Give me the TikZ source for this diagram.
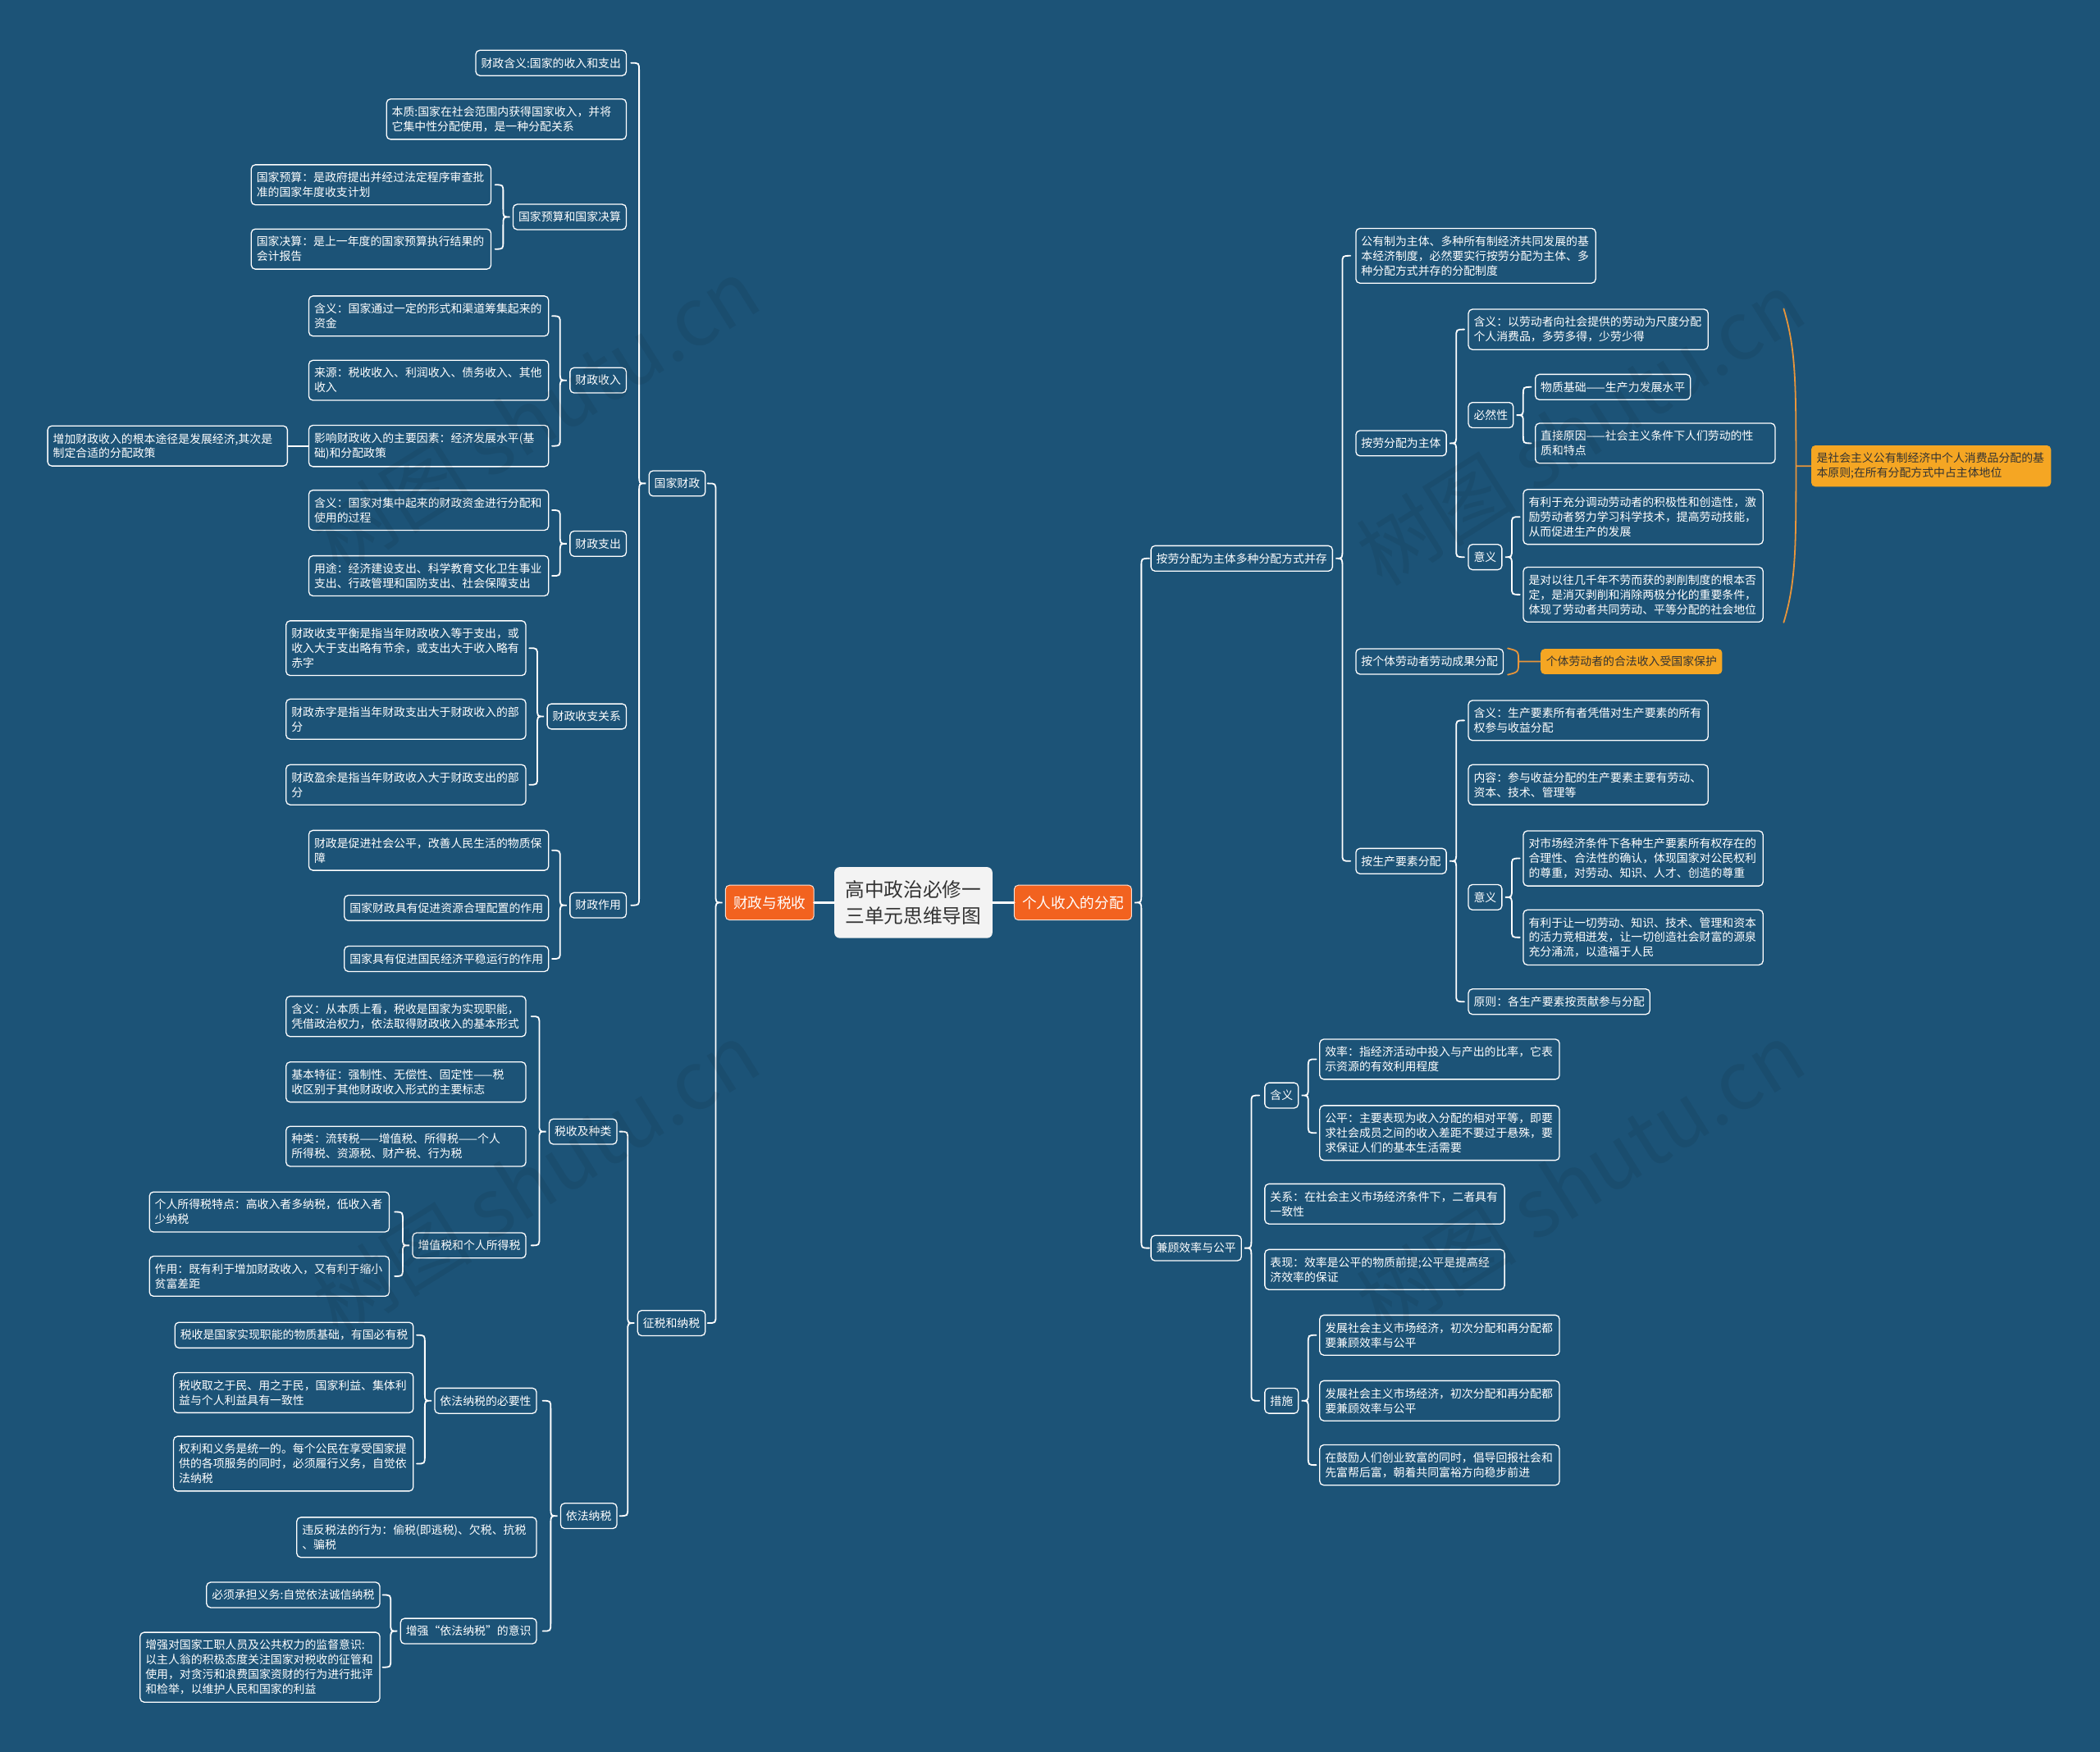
\documentclass[tikz,border=0pt]{standalone}
\usepackage{fontspec}
\setmainfont{Noto Sans CJK SC}
\usetikzlibrary{calc}
\definecolor{bg}{HTML}{1C5377}
\definecolor{lvl}{HTML}{F2621F}
\definecolor{sumo}{HTML}{F5A623}
\definecolor{sumline}{HTML}{E8953A}
\definecolor{ctr}{HTML}{F3F3F3}
\definecolor{ink}{HTML}{333333}
\tikzset{
  box/.style={draw=white, line width=0.8pt, fill=bg, rounded corners=3pt, text=white,
    font=\fontsize{8.5}{11}\selectfont, inner xsep=4pt, inner ysep=5.5pt, align=left},
  wbox/.style={box, text width=171pt},
  sumbox/.style={box, draw=none, fill=sumo, text=ink},
  lvlbox/.style={fill=lvl, draw=white!80!lvl, line width=0.6pt, rounded corners=3pt, text=white,
    font=\fontsize{10.8}{13}\selectfont, minimum height=26pt, inner xsep=6pt},
  ctrbox/.style={fill=ctr, draw=none, rounded corners=4pt, text=ink, align=center,
    font=\fontsize{14.5}{20}\selectfont, minimum width=118pt, minimum height=53pt},
  conn/.style={draw=white, line width=1.1pt, line cap=round},
  sline/.style={draw=sumline, line width=1.1pt, line cap=round},
  wm/.style={font=\fontsize{60}{60}\selectfont, text=black, opacity=0.07}
}
% brace for children on the left of parent #1
\newcommand\brL[3]{\draw[conn] let \p1=(#1.west),\p2=(#2.east),\p3=(#3.east) in
  (\x1-13pt,\y2) .. controls (\x1-7pt,\y2) .. (\x1-7pt,\y2-6pt) -- (\x1-7pt,\y1+6pt)
  .. controls (\x1-7pt,\y1) .. (\x1-2pt,\y1) .. controls (\x1-7pt,\y1) .. (\x1-7pt,\y1-6pt)
  -- (\x1-7pt,\y3+6pt) .. controls (\x1-7pt,\y3) .. (\x1-13pt,\y3);}
% brace for children on the right of parent #1
\newcommand\brR[3]{\draw[conn] let \p1=(#1.east),\p2=(#2.west),\p3=(#3.west) in
  (\x1+13pt,\y2) .. controls (\x1+7pt,\y2) .. (\x1+7pt,\y2-6pt) -- (\x1+7pt,\y1+6pt)
  .. controls (\x1+7pt,\y1) .. (\x1+2pt,\y1) .. controls (\x1+7pt,\y1) .. (\x1+7pt,\y1-6pt)
  -- (\x1+7pt,\y3+6pt) .. controls (\x1+7pt,\y3) .. (\x1+13pt,\y3);}
\begin{document}
\begin{tikzpicture}[x=1pt,y=-1pt]
\fill[bg] (0,0) rectangle (1568,1308);
\useasboundingbox (0,0) rectangle (1568,1308);

% centre
\node[ctrbox] (ct) at (682,674) {高中政治必修一\\三单元思维导图};
\node[lvlbox, anchor=east] (cz) at (608,674) {财政与税收};
\node[lvlbox, anchor=west] (cg) at (757,674) {个人收入的分配};
\draw[conn, line width=2pt] (ct.west) -- (cz.east);
\draw[conn, line width=2pt] (ct.east) -- (cg.west);

% ---------------- left side ----------------
\node[box, anchor=east] (n1) at (527,361) {国家财政};
\node[box, anchor=east] (n2) at (527,988) {征税和纳税};

\node[box, anchor=east] (a1) at (468,47) {财政含义:国家的收入和支出};
\node[wbox, anchor=east] (a2) at (468,89) {本质:国家在社会范围内获得国家收入，并将\\它集中性分配使用，是一种分配关系};
\node[box, anchor=east] (a3) at (468,162) {国家预算和国家决算};
\node[box, anchor=east] (a4) at (468,284) {财政收入};
\node[box, anchor=east] (a5) at (468,406) {财政支出};
\node[box, anchor=east] (a6) at (468,535) {财政收支关系};
\node[box, anchor=east] (a7) at (468,676) {财政作用};

\node[wbox, anchor=east] (b1) at (367,138) {国家预算：是政府提出并经过法定程序审查批\\准的国家年度收支计划};
\node[wbox, anchor=east] (b2) at (367,186) {国家决算：是上一年度的国家预算执行结果的\\会计报告};

\node[wbox, anchor=east] (c1) at (410,236) {含义：国家通过一定的形式和渠道筹集起来的\\资金};
\node[wbox, anchor=east] (c2) at (410,284) {来源：税收收入、利润收入、债务收入、其他\\收入};
\node[wbox, anchor=east] (c3) at (410,333) {影响财政收入的主要因素：经济发展水平(基\\础)和分配政策};
\node[wbox, anchor=east] (c4) at (215,333) {增加财政收入的根本途径是发展经济,其次是\\制定合适的分配政策};

\node[wbox, anchor=east] (d1) at (410,381) {含义：国家对集中起来的财政资金进行分配和\\使用的过程};
\node[wbox, anchor=east] (d2) at (410,430) {用途：经济建设支出、科学教育文化卫生事业\\支出、行政管理和国防支出、社会保障支出};

\node[wbox, anchor=east] (e1) at (393,484) {财政收支平衡是指当年财政收入等于支出，或\\收入大于支出略有节余，或支出大于收入略有\\赤字};
\node[wbox, anchor=east] (e2) at (393,537) {财政赤字是指当年财政支出大于财政收入的部\\分};
\node[wbox, anchor=east] (e3) at (393,586) {财政盈余是指当年财政收入大于财政支出的部\\分};

\node[wbox, anchor=east] (f1) at (410,635) {财政是促进社会公平，改善人民生活的物质保\\障};
\node[box, anchor=east] (f2) at (410,678) {国家财政具有促进资源合理配置的作用};
\node[box, anchor=east] (f3) at (410,716) {国家具有促进国民经济平稳运行的作用};

\node[box, anchor=east] (g1) at (461,845) {税收及种类};
\node[box, anchor=east] (g2) at (461,1132) {依法纳税};

\node[wbox, anchor=east] (h1) at (393,759) {含义：从本质上看，税收是国家为实现职能，\\凭借政治权力，依法取得财政收入的基本形式};
\node[wbox, anchor=east] (h2) at (393,808) {基本特征：强制性、无偿性、固定性——税\\收区别于其他财政收入形式的主要标志};
\node[wbox, anchor=east] (h3) at (393,856) {种类：流转税——增值税、所得税——个人\\所得税、资源税、财产税、行为税};
\node[box, anchor=east] (h4) at (393,930) {增值税和个人所得税};

\node[wbox, anchor=east] (i1) at (291,905) {个人所得税特点：高收入者多纳税，低收入者\\少纳税};
\node[wbox, anchor=east] (i2) at (291,953) {作用：既有利于增加财政收入，又有利于缩小\\贫富差距};

\node[box, anchor=east] (j1) at (401,1046) {依法纳税的必要性};
\node[wbox, anchor=east] (j2) at (401,1148) {违反税法的行为：偷税(即逃税)、欠税、抗税\\、骗税};
\node[box, anchor=east] (j3) at (401,1218) {增强“依法纳税”的意识};

\node[box, anchor=east] (k1) at (309,997) {税收是国家实现职能的物质基础，有国必有税};
\node[wbox, anchor=east] (k2) at (309,1040) {税收取之于民、用之于民，国家利益、集体利\\益与个人利益具有一致性};
\node[wbox, anchor=east] (k3) at (309,1093) {权利和义务是统一的。每个公民在享受国家提\\供的各项服务的同时，必须履行义务，自觉依\\法纳税};

\node[box, anchor=east] (l1) at (284,1191) {必须承担义务:自觉依法诚信纳税};
\node[wbox, anchor=east] (l2) at (284,1245) {增强对国家工职人员及公共权力的监督意识:\\以主人翁的积极态度关注国家对税收的征管和\\使用，对贪污和浪费国家资财的行为进行批评\\和检举，以维护人民和国家的利益};

\brL{cz}{n1}{n2}
\brL{n1}{a1}{a7}
\brL{a3}{b1}{b2}
\brL{a4}{c1}{c3}
\brL{a5}{d1}{d2}
\brL{a6}{e1}{e3}
\brL{a7}{f1}{f3}
\brL{n2}{g1}{g2}
\brL{g1}{h1}{h4}
\brL{h4}{i1}{i2}
\brL{g2}{j1}{j3}
\brL{j1}{k1}{k3}
\brL{j3}{l1}{l2}
\draw[conn] (c4.east) -- (c3.west);

% ---------------- right side ----------------
\node[box, anchor=west] (r1) at (859,417) {按劳分配为主体多种分配方式并存};
\node[box, anchor=west] (r2) at (859,932) {兼顾效率与公平};

\node[wbox, anchor=west] (s1) at (1012,191) {公有制为主体、多种所有制经济共同发展的基\\本经济制度，必然要实行按劳分配为主体、多\\种分配方式并存的分配制度};
\node[box, anchor=west] (s2) at (1012,331) {按劳分配为主体};
\node[box, anchor=west] (s3) at (1012,494) {按个体劳动者劳动成果分配};
\node[box, anchor=west] (s4) at (1012,643) {按生产要素分配};

\node[wbox, anchor=west] (t1) at (1096,246) {含义：以劳动者向社会提供的劳动为尺度分配\\个人消费品，多劳多得，少劳少得};
\node[box, anchor=west] (t2) at (1096,310) {必然性};
\node[box, anchor=west] (t3) at (1096,416) {意义};

\node[box, anchor=west] (u1) at (1146,289) {物质基础——生产力发展水平};
\node[wbox, anchor=west] (u2) at (1146,331) {直接原因——社会主义条件下人们劳动的性\\质和特点};

\node[wbox, anchor=west] (v1) at (1137,386) {有利于充分调动劳动者的积极性和创造性，激\\励劳动者努力学习科学技术，提高劳动技能，\\从而促进生产的发展};
\node[wbox, anchor=west] (v2) at (1137,444) {是对以往几千年不劳而获的剥削制度的根本否\\定，是消灭剥削和消除两极分化的重要条件，\\体现了劳动者共同劳动、平等分配的社会地位};

\node[sumbox, text width=171pt, anchor=west] (o1) at (1352,348) {是社会主义公有制经济中个人消费品分配的基\\本原则;在所有分配方式中占主体地位};
\node[sumbox, anchor=west] (o2) at (1150,494) {个体劳动者的合法收入受国家保护};

\node[wbox, anchor=west] (w1) at (1096,538) {含义：生产要素所有者凭借对生产要素的所有\\权参与收益分配};
\node[wbox, anchor=west] (w2) at (1096,586) {内容：参与收益分配的生产要素主要有劳动、\\资本、技术、管理等};
\node[box, anchor=west] (w3) at (1096,670) {意义};
\node[box, anchor=west] (w4) at (1096,748) {原则：各生产要素按贡献参与分配};

\node[wbox, anchor=west] (x1) at (1137,641) {对市场经济条件下各种生产要素所有权存在的\\合理性、合法性的确认，体现国家对公民权利\\的尊重，对劳动、知识、人才、创造的尊重};
\node[wbox, anchor=west] (x2) at (1137,700) {有利于让一切劳动、知识、技术、管理和资本\\的活力竞相迸发，让一切创造社会财富的源泉\\充分涌流，以造福于人民};

\node[box, anchor=west] (y1) at (944,818) {含义};
\node[wbox, anchor=west] (y2) at (944,899) {关系：在社会主义市场经济条件下，二者具有\\一致性};
\node[wbox, anchor=west] (y3) at (944,948) {表现：效率是公平的物质前提;公平是提高经\\济效率的保证};
\node[box, anchor=west] (y4) at (944,1046) {措施};

\node[wbox, anchor=west] (z1) at (985,791) {效率：指经济活动中投入与产出的比率，它表\\示资源的有效利用程度};
\node[wbox, anchor=west] (z2) at (985,846) {公平：主要表现为收入分配的相对平等，即要\\求社会成员之间的收入差距不要过于悬殊，要\\求保证人们的基本生活需要};

\node[wbox, anchor=west] (q1) at (985,997) {发展社会主义市场经济，初次分配和再分配都\\要兼顾效率与公平};
\node[wbox, anchor=west] (q2) at (985,1046) {发展社会主义市场经济，初次分配和再分配都\\要兼顾效率与公平};
\node[wbox, anchor=west] (q3) at (985,1094) {在鼓励人们创业致富的同时，倡导回报社会和\\先富帮后富，朝着共同富裕方向稳步前进};

\brR{cg}{r1}{r2}
\brR{r1}{s1}{s4}
\brR{s2}{t1}{t3}
\brR{t2}{u1}{u2}
\brR{t3}{v1}{v2}
\brR{s4}{w1}{w4}
\brR{w3}{x1}{x2}
\brR{r2}{y1}{y4}
\brR{y1}{z1}{z2}
\brR{y4}{q1}{q3}

% summary braces
\draw[sline] let \p1=(u2.east), \p2=(t1.north), \p3=(v2.south), \p4=(o1.west) in
  (\x1+6pt,\y2) .. controls (\x4-11pt,\y2-30pt) and (\x4-11pt,\y4+60pt) .. (\x4-11pt,\y4)
  .. controls (\x4-11pt,\y4-60pt) and (\x4-11pt,\y3+30pt) .. (\x1+6pt,\y3)
  (\x4-11pt,\y4) -- (\x4,\y4);
\draw[sline] let \p1=(s3.north east), \p2=(s3.south east), \p3=(o2.west) in
  (\x1+3pt,\y1) .. controls (\x1+11pt,\y1-2pt) .. (\x1+11pt,\y3)
  .. controls (\x1+11pt,\y2+2pt) .. (\x1+3pt,\y2)
  (\x1+11pt,\y3) -- (\x3,\y3);

% watermarks
\node[wm, rotate=32] (wm1) at (400,310) {树图 shutu.cn};
\node[wm, rotate=32] (wm2) at (1180,320) {树图 shutu.cn};
\node[wm, rotate=32] (wm3) at (400,880) {树图 shutu.cn};
\node[wm, rotate=32] (wm4) at (1180,880) {树图 shutu.cn};
\end{tikzpicture}
\end{document}
